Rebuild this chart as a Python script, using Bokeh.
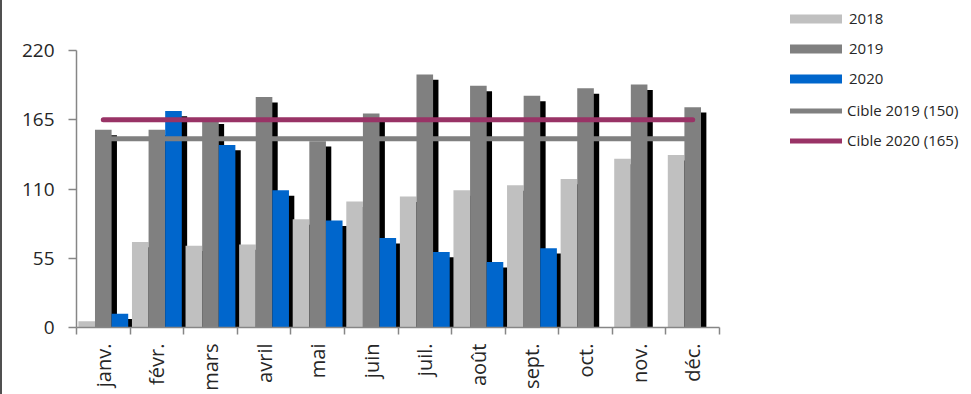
import numpy as np
from bokeh.plotting import figure
from bokeh.layouts import row
from bokeh.models import ColumnDataSource, FixedTicker, Legend, LegendItem, Range1d
from bokeh.transform import dodge
from bokeh.embed import file_html
from bokeh.resources import INLINE

# ---- data ----
months = ["janv.", "févr.", "mars", "avril", "mai", "juin",
          "juil.", "août", "sept.", "oct.", "nov.", "déc."]
v2018 = [5, 68, 65, 66, 86, 100, 104, 109, 113, 118, 134, 137]
v2019 = [157, 157, 166, 183, 148, 170, 201, 192, 184, 190, 193, 175]
v2020 = [11, 172, 145, 109, 85, 71, 60, 52, 63, None, None, None]
cible_2019 = [150, 150, 150, 150, 150, 150, 150, 150, 150, 150, 150, 150]
cible_2020 = [165, 165, 165, 165, 165, 165, 165, 165, 165, 165, 165, 165]
y_ticks = [0, 55, 110, 165, 220]
series_names = ["2018", "2019", "2020"]
line_names = ["Cible 2019 (150)", "Cible 2020 (165)"]

# ---- style ----
C2018, C2019, C2020 = "#c0c0c0", "#808080", "#0066cc"
C_CIBLE19, C_CIBLE20 = "#808080", "#993366"
BAR_W = 0.31
SHADOW_DX = 0.10   # category units (~5.5 px)
SHADOW_DY = 4.3    # value units (~5.5 px)
FONT = "Open Sans"
TXT = "#262626"
AXIS_C = "#868686"

def arr(v):
    return np.array([np.nan if x is None else x for x in v], dtype=float)

n = len(months)
xc = np.arange(n) + 0.5
a18, a19, a20 = arr(v2018), arr(v2019), arr(v2020)
src = ColumnDataSource(dict(
    x=xc, v2018=a18, v2019=a19, v2020=a20,
    s2018=a18 - SHADOW_DY, s2019=a19 - SHADOW_DY, s2020=a20 - SHADOW_DY,
    c2019=np.array(cible_2019, float), c2020=np.array(cible_2020, float),
))

p = figure(width=778, height=394, output_backend="svg", toolbar_location=None,
           x_range=Range1d(0, n), y_range=Range1d(0, 220),
           min_border_left=74, min_border_right=61,
           min_border_top=50, min_border_bottom=67,
           background_fill_color="white", border_fill_color="white",
           outline_line_color=None)
p.frame_align = False
p.grid.visible = False

offs = [-BAR_W, 0.0, BAR_W]
cols = ["2018", "2019", "2020"]
colors = [C2018, C2019, C2020]

# shadows (behind all bars)
for off, c in zip(offs, cols):
    p.vbar(x=dodge("x", off + SHADOW_DX), top="s" + c, bottom=0, width=BAR_W,
           source=src, fill_color="black", line_color=None)

for off, c, col in zip(offs, cols, colors):
    p.vbar(x=dodge("x", off), top="v" + c, bottom=0, width=BAR_W,
           source=src, fill_color=col, line_color=None)

p.line(x="x", y="c2019", source=src, line_color=C_CIBLE19, line_width=5, line_cap="round")
p.line(x="x", y="c2020", source=src, line_color=C_CIBLE20, line_width=5, line_cap="round")

# ---- axes ----
yax = p.yaxis[0]
yax.ticker = FixedTicker(ticks=y_ticks)
yax.minor_tick_line_color = None
yax.major_tick_out = 8
yax.major_tick_in = 0
yax.axis_line_color = AXIS_C
yax.major_tick_line_color = AXIS_C
yax.axis_line_width = 1.5
yax.major_tick_line_width = 1.5
yax.major_label_standoff = 14
yax.major_label_text_font = FONT
yax.major_label_text_font_size = "19px"
yax.major_label_text_color = TXT

xax = p.xaxis[0]
xax.ticker = FixedTicker(ticks=list(xc), minor_ticks=list(range(n + 1)))
xax.major_label_overrides = {float(x): m for x, m in zip(xc, months)}
xax.major_tick_out = 0
xax.major_tick_in = 0
xax.minor_tick_out = 7
xax.minor_tick_in = 0
xax.minor_tick_line_color = AXIS_C
xax.minor_tick_line_width = 1.5
xax.axis_line_color = AXIS_C
xax.axis_line_width = 1.5
xax.major_label_orientation = np.pi / 2
xax.major_label_standoff = 9
xax.major_label_text_font = FONT
xax.major_label_text_font_size = "20px"
xax.major_label_text_color = TXT

# ---- legend panel (separate figure to the right; its ranges show no data) ----
q = figure(width=191, height=394, output_backend="svg", toolbar_location=None,
           x_range=Range1d(-3, -2), y_range=Range1d(-3, -2),
           x_axis_type=None, y_axis_type=None,
           min_border_left=0, min_border_right=0, min_border_top=0, min_border_bottom=0,
           outline_line_color=None, background_fill_color="white", border_fill_color="white")
q.frame_align = False
q.grid.visible = False
lb = [q.vbar(x="x", top="v" + c, bottom=0, width=BAR_W, source=src,
             fill_color=col, line_color=None) for c, col in zip(cols, colors)]
ll19 = q.line(x="x", y="c2019", source=src, line_color=C_CIBLE19, line_width=5, line_cap="round")
ll20 = q.line(x="x", y="c2020", source=src, line_color=C_CIBLE20, line_width=5, line_cap="round")

def style_legend(lg):
    lg.padding = 0
    lg.margin = 0
    lg.border_line_color = None
    lg.background_fill_alpha = 0
    lg.label_text_font = FONT
    lg.label_text_font_size = "15px"
    lg.label_text_color = TXT
    lg.label_height = 20
    lg.spacing = 10
    lg.glyph_height = 11

leg_bars = Legend(items=[LegendItem(label=nm, renderers=[r]) for nm, r in zip(series_names, lb)],
                  location=(3, 306))
style_legend(leg_bars)
leg_bars.glyph_width = 65
leg_bars.label_standoff = 1

leg_lines = Legend(items=[LegendItem(label=line_names[0], renderers=[ll19]),
                          LegendItem(label=line_names[1], renderers=[ll20])],
                   location=(10, 244))
style_legend(leg_lines)
leg_lines.glyph_width = 52
leg_lines.label_standoff = 5

q.add_layout(leg_bars, "center")
q.add_layout(leg_lines, "center")

layout = row(p, q, spacing=0, styles={"border-left": "2px solid #505050"})

open("out.html", "w").write(file_html(layout, INLINE))
